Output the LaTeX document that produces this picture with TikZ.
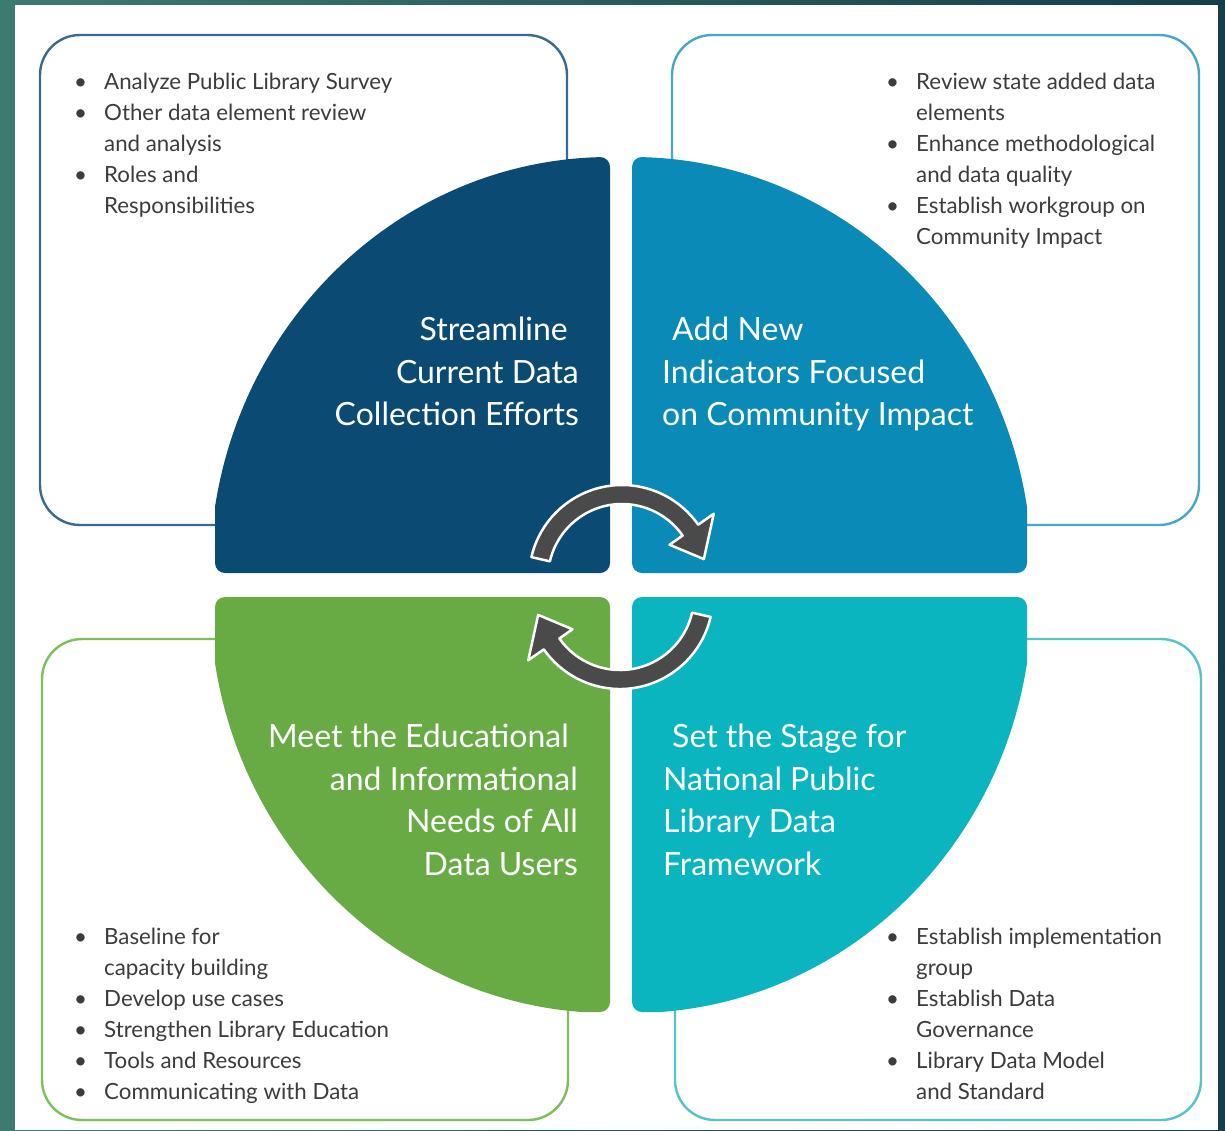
\documentclass[tikz,border=0pt]{standalone}
\usepackage{fontspec}
\setmainfont{Lato}
\usetikzlibrary{calc}
\definecolor{bgL}{HTML}{3D7B70}
\definecolor{bgR}{HTML}{173D4A}
\definecolor{tlline}{HTML}{3A6B8C}
\definecolor{trline}{HTML}{4AA6C8}
\definecolor{blline}{HTML}{7CBF5C}
\definecolor{brline}{HTML}{55C3C8}
\definecolor{qTL}{HTML}{0B4A72}
\definecolor{qTR}{HTML}{0A8AB6}
\definecolor{qBL}{HTML}{68AA43}
\definecolor{qBR}{HTML}{0BB5C0}
\definecolor{txtgray}{HTML}{3C3C3C}
\definecolor{arrowgray}{HTML}{4A4A4A}
\newcommand\bi{\makebox[30pt][l]{\textbullet}}
\newcommand\bc{\hspace*{30pt}}
\begin{document}
\begin{tikzpicture}[x=1pt,y=-1pt,
  outerbox/.style={line width=2.4pt, rounded corners=40pt},
  bul/.style={inner sep=0pt, anchor=north west, align=left, text=txtgray,
    font=\fontsize{22.3}{31}\selectfont},
  ttl/.style={inner sep=0pt, text=white, font=\fontsize{32}{42.5}\selectfont},
  cyc/.style={fill=arrowgray, draw=white, line width=2.5pt, line join=round}]
\useasboundingbox (0,0) rectangle (1225,1130);
\shade[left color=bgL, right color=bgR] (0,0) rectangle (1225,1130);
\fill[white] (15,5) rectangle (1218,1130);
% outer boxes
\draw[outerbox, draw=tlline] (40,35) rectangle (567,525);
\draw[outerbox, draw=trline] (672,35) rectangle (1199,525);
\draw[outerbox, draw=blline] (42,639) rectangle (568,1120);
\draw[outerbox, draw=brline] (675,639) rectangle (1201,1120);
% quadrants
\begin{scope}
\clip[rounded corners=10pt] (215,157) rectangle (610,573);
\fill[qTL] (610,573) ellipse [x radius=400, y radius=416];
\end{scope}
\begin{scope}
\clip[rounded corners=10pt] (632,157) rectangle (1027,573);
\fill[qTR] (632,573) ellipse [x radius=400, y radius=416];
\end{scope}
\begin{scope}
\clip[rounded corners=10pt] (215,597) rectangle (610,1012);
\fill[qBL] (610,597) ellipse [x radius=400, y radius=416];
\end{scope}
\begin{scope}
\clip[rounded corners=10pt] (632,597) rectangle (1027,1012);
\fill[qBR] (632,597) ellipse [x radius=400, y radius=416];
\end{scope}
% cycle arrows
\coordinate (uc) at (622,578);
\coordinate (lc) at (620,596);
\path[cyc] ($(uc)+(-167:93)$) arc[start angle=-167, end angle=-35, radius=93]
  -- ($(uc)+(-35:112)$) -- ($(uc)+(-13:84)$) -- ($(uc)+(-35:58)$)
  -- ($(uc)+(-35:74)$) arc[start angle=-35, end angle=-167, radius=74] -- cycle;
\path[cyc] ($(lc)+(13:93)$) arc[start angle=13, end angle=145, radius=93]
  -- ($(lc)+(145:112)$) -- ($(lc)+(167:84)$) -- ($(lc)+(145:58)$)
  -- ($(lc)+(145:74)$) arc[start angle=145, end angle=13, radius=74] -- cycle;
% quadrant titles
\node[ttl, anchor=north east, align=right] (tTL) at (579,317)
  {Streamline\hspace*{11pt}\\Current Data\\Collection Efforts};
\node[ttl, anchor=north west, align=left] (tTR) at (662,317)
  {\hspace*{10pt}Add New\\Indicators Focused\\on Community Impact};
\node[ttl, anchor=north east, align=right] (tBL) at (578,724)
  {Meet the Educational\hspace*{9pt}\\and Informational\\Needs of All\\Data Users};
\node[ttl, anchor=north west, align=left] (tBR) at (663,724)
  {\hspace*{9pt}Set the Stage for\\National Public\\Library Data\\Framework};
% bullet lists
\node[bul] (lTL) at (74,73)
  {\bi Analyze Public Library Survey\\\bi Other data element review\\\bc and analysis\\\bi Roles and\\\bc Responsibilities};
\node[bul] (lTR) at (886,73)
  {\bi Review state added data\\\bc elements\\\bi Enhance methodological\\\bc and data quality\\\bi Establish workgroup on\\\bc Community Impact};
\node[bul] (lBL) at (74,928)
  {\bi Baseline for\\\bc capacity building\\\bi Develop use cases\\\bi Strengthen Library Education\\\bi Tools and Resources\\\bi Communicating with Data};
\node[bul] (lBR) at (886,928)
  {\bi Establish implementation\\\bc group\\\bi Establish Data\\\bc Governance\\\bi Library Data Model\\\bc and Standard};
\end{tikzpicture}
\end{document}
